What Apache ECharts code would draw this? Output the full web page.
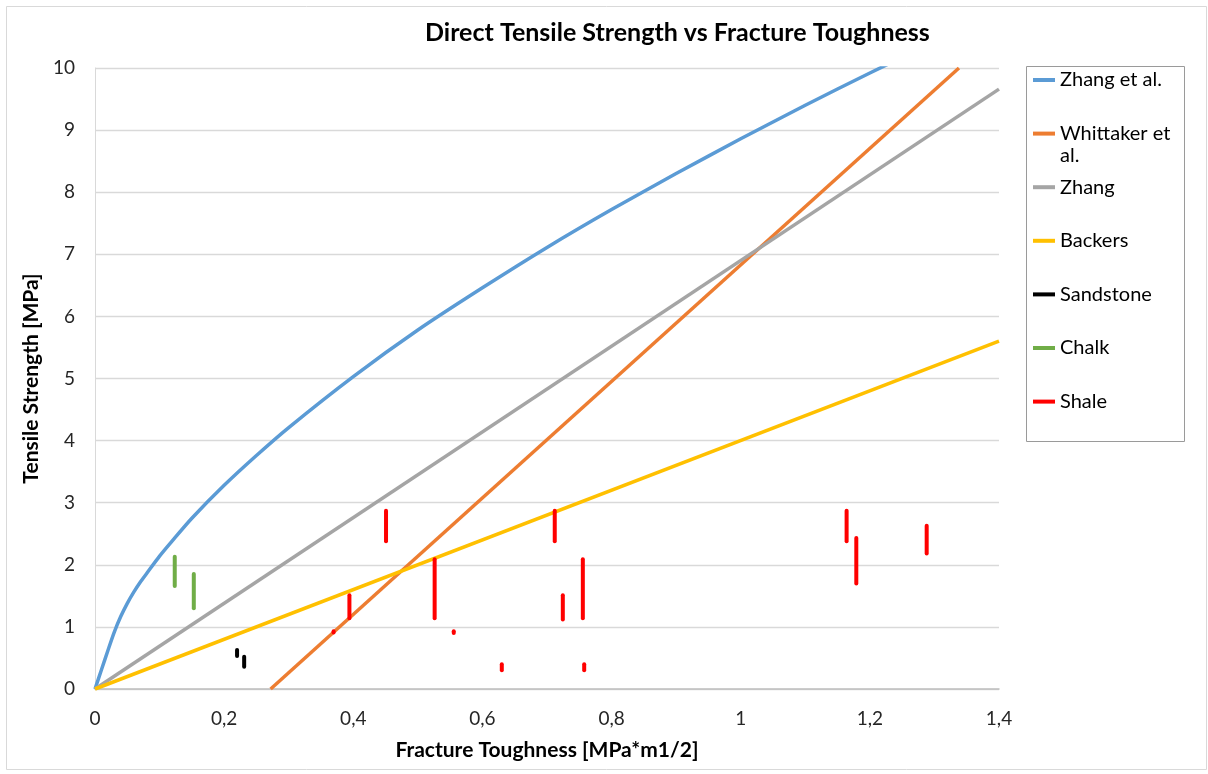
<!DOCTYPE html>
<html>
<head>
<meta charset="utf-8">
<script src="https://cdn.jsdelivr.net/npm/echarts@6/dist/echarts.min.js"></script>
<style>
  html, body { margin: 0; padding: 0; background: #ffffff; }
  #chart { width: 1208px; height: 774px; }
</style>
</head>
<body>
<div id="chart"></div>
<script>
// Fracture toughness K (MPa*m1/2) and tensile strength T (MPa)
const xTicks = [0, 0.2, 0.4, 0.6, 0.8, 1, 1.2, 1.4];
const yTicks = [0, 1, 2, 3, 4, 5, 6, 7, 8, 9, 10];

// Zhang et al. (curve)
const zhangEtAlK = [0, 0.01, 0.02, 0.03, 0.04, 0.05, 0.06, 0.07, 0.08, 0.1, 0.12, 0.15, 0.2, 0.25, 0.3, 0.4, 0.5, 0.6, 0.7, 0.8, 0.9, 1.0, 1.1, 1.2, 1.3];
const zhangEtAlT = [0, 0.31, 0.62, 0.92, 1.17, 1.38, 1.56, 1.72, 1.86, 2.14, 2.39, 2.75, 3.28, 3.76, 4.21, 5.03, 5.78, 6.46, 7.11, 7.72, 8.3, 8.86, 9.4, 9.92, 10.42];

// Whittaker et al. (straight line)
const whittakerK = [0.272, 1.338];
const whittakerT = [0, 10];

// Zhang (straight line)
const zhangK = [0, 1.4];
const zhangT = [0, 9.66];

// Backers (straight line)
const backersK = [0, 1.4];
const backersT = [0, 5.6];

// Measured ranges: [K, T low, T high]
const sandstone = [
  [0.220, 0.53, 0.63],
  [0.231, 0.36, 0.52]
];
const chalk = [
  [0.1235, 1.66, 2.13],
  [0.153, 1.30, 1.85]
];
const shale = [
  [0.3695, 0.91, 0.93],
  [0.394, 1.14, 1.51],
  [0.4507, 2.38, 2.87],
  [0.526, 1.14, 2.09],
  [0.5556, 0.90, 0.93],
  [0.630, 0.30, 0.40],
  [0.712, 2.38, 2.87],
  [0.7245, 1.12, 1.51],
  [0.7555, 1.14, 2.09],
  [0.7576, 0.30, 0.40],
  [1.164, 2.38, 2.87],
  [1.179, 1.70, 2.43],
  [1.288, 2.18, 2.63]
];

const FONT = 'Lato';
const pairs = (xs, ys) => xs.map((x, i) => [x, ys[i]]);
const comma = v => String(Math.round(v * 10) / 10).replace('.', ',');

function rangeSeries(name, color, data) {
  return {
    name: name,
    type: 'custom',
    itemStyle: { color: color },
    encode: { x: 0, y: [1, 2] },
    data: data,
    z: 5,
    renderItem: function (params, api) {
      const x = api.value(0);
      const p1 = api.coord([x, api.value(1)]);
      const p2 = api.coord([x, api.value(2)]);
      return {
        type: 'line',
        shape: { x1: p1[0], y1: p1[1], x2: p2[0], y2: p2[1] },
        style: { stroke: api.visual('color'), lineWidth: 4, lineCap: 'round' }
      };
    }
  };
}

function lineSeries(name, color, xs, ys, smooth) {
  return {
    name: name,
    type: 'line',
    data: pairs(xs, ys),
    smooth: smooth ? 0.25 : false,
    showSymbol: false,
    symbol: 'none',
    clip: true,
    itemStyle: { color: color },
    lineStyle: { color: color, width: 3.5 },
    emphasis: { disabled: true }
  };
}

const chart = echarts.init(document.getElementById('chart'), null, { renderer: 'canvas' });

chart.setOption({
  animation: false,
  backgroundColor: '#ffffff',
  title: {
    text: 'Direct Tensile Strength vs Fracture Toughness',
    left: 425,
    top: 20,
    padding: 0,
    textStyle: { fontFamily: FONT, fontSize: 25, fontWeight: 'bold', color: '#000000' }
  },
  grid: { left: 95, top: 68, width: 904, height: 621, containLabel: false },
  xAxis: {
    type: 'value',
    min: 0,
    max: 1.4,
    interval: 0.2,
    name: 'Fracture Toughness [MPa*m1/2]',
    nameLocation: 'middle',
    nameGap: 51,
    nameTextStyle: { fontFamily: FONT, fontSize: 21, fontWeight: 'bold', color: '#000000' },
    axisLine: { show: true, lineStyle: { color: '#bfbfbf', width: 1.5 } },
    axisTick: { show: false },
    splitLine: { show: false },
    axisLabel: {
      margin: 20,
      fontFamily: FONT, fontSize: 19, color: '#262626',
      formatter: v => xTicks.some(t => Math.abs(t - v) < 1e-9) ? comma(v) : ''
    }
  },
  yAxis: {
    type: 'value',
    min: 0,
    max: 10,
    interval: 1,
    name: 'Tensile Strength [MPa]',
    nameLocation: 'middle',
    nameRotate: 90,
    nameGap: 44,
    nameTextStyle: { fontFamily: FONT, fontSize: 21, fontWeight: 'bold', color: '#000000' },
    axisLine: { show: true, lineStyle: { color: '#d9d9d9', width: 1 } },
    axisTick: { show: false },
    splitLine: { show: true, lineStyle: { color: '#d9d9d9', width: 1.3 } },
    axisLabel: {
      margin: 20,
      fontFamily: FONT, fontSize: 19, color: '#262626',
      formatter: v => yTicks.includes(v) ? String(v) : ''
    }
  },
  legend: {
    orient: 'vertical',
    left: 1033,
    top: 70,
    padding: 0,
    itemGap: 33.6,
    itemWidth: 22,
    itemHeight: 4,
    icon: 'rect',
    selectedMode: false,
    textStyle: { fontFamily: FONT, fontSize: 20, color: '#000000', lineHeight: 20, padding: [0, 0, 0, 0] },
    formatter: name => name === 'Whittaker et al.' ? 'Whittaker et' : name,
    data: ['Zhang et al.', 'Whittaker et al.', 'Zhang', 'Backers', 'Sandstone', 'Chalk', 'Shale']
  },
  graphic: [
    {
      type: 'rect',
      silent: true,
      shape: { x: 6.5, y: 6.5, width: 1200, height: 763 },
      style: { fill: 'none', stroke: '#d9d9d9', lineWidth: 1 },
      z: -10
    },
    {
      type: 'rect',
      silent: true,
      shape: { x: 1026.5, y: 66.5, width: 158, height: 375 },
      style: { fill: 'none', stroke: '#9a9a9a', lineWidth: 1 }
    },
    {
      type: 'text',
      silent: true,
      left: 1060,
      top: 146,
      style: { text: 'al.', fontFamily: FONT, fontSize: 20, fill: '#000000' }
    }
  ],
  series: [
    lineSeries('Zhang et al.', '#5b9bd5', zhangEtAlK, zhangEtAlT, true),
    lineSeries('Whittaker et al.', '#ed7d31', whittakerK, whittakerT, false),
    lineSeries('Zhang', '#a5a5a5', zhangK, zhangT, false),
    lineSeries('Backers', '#ffc000', backersK, backersT, false),
    rangeSeries('Sandstone', '#000000', sandstone),
    rangeSeries('Chalk', '#70ad47', chalk),
    rangeSeries('Shale', '#ff0000', shale)
  ]
});
</script>
</body>
</html>
